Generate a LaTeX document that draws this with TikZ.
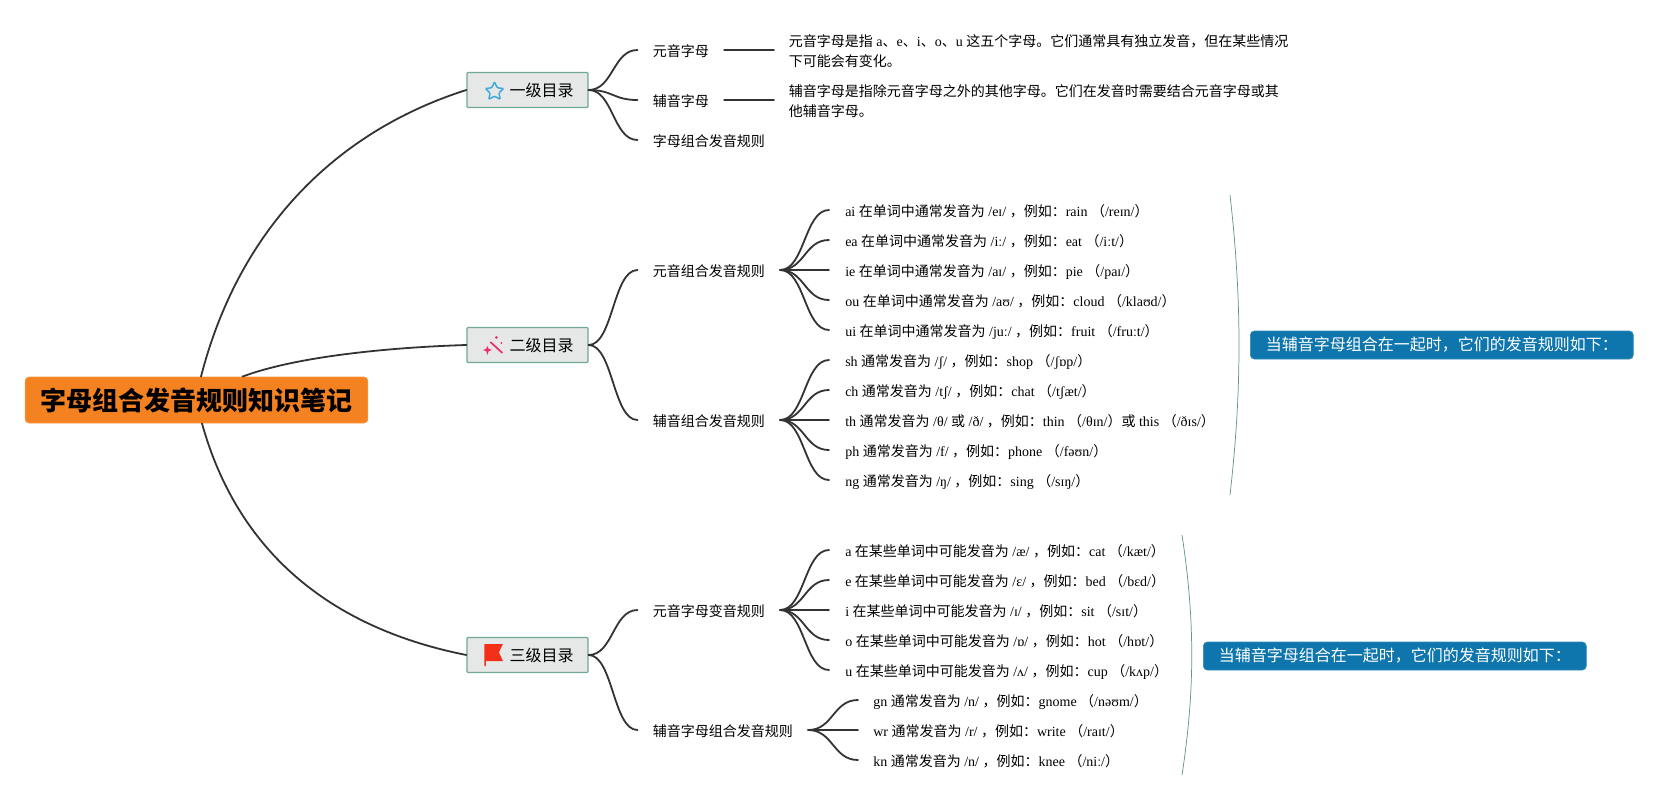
\documentclass[tikz,border=0pt]{standalone}
\usepackage{fontspec}
\setmainfont{Liberation Serif}
\newfontfamily\cjk{Noto Sans CJK SC}
\usetikzlibrary{calc,shapes.geometric}
\newcommand{\z}[1]{{\cjk #1}}
\definecolor{rootfill}{HTML}{F58220}
\definecolor{boxfill}{HTML}{E6E8E8}
\definecolor{boxline}{HTML}{6FA898}
\definecolor{callfill}{HTML}{0E76AC}
\definecolor{linec}{HTML}{333333}
\tikzset{
  link/.style={draw=linec,line width=1.35pt,line cap=round},
  rootbox/.style={draw=rootfill!85!white,line width=.6pt,fill=rootfill,rounded corners=3pt,minimum width=257pt,minimum height=34.5pt,inner sep=0pt,font=\cjk\bfseries\fontsize{19.5}{24}\selectfont},
  lvbox/.style={draw=boxline,line width=.9pt,fill=boxfill,rounded corners=.8pt,minimum width=90.75pt,minimum height=26.25pt,inner sep=0pt,text height=11.6pt,text depth=1.2pt,font=\cjk\fontsize{12}{15}\selectfont},
  item/.style={anchor=west,inner xsep=11.3pt,inner ysep=0pt,text height=10.1pt,text depth=.9pt,font=\fontsize{10.5}{15}\selectfont,text=black},
  kid/.style={item,inner xsep=12pt},
  desc/.style={anchor=west,inner xsep=11pt,inner ysep=0pt,align=left,font=\fontsize{10.5}{15}\selectfont,text=black},
  callout/.style={fill=callfill,draw=callfill!85!white,line width=.5pt,rounded corners=3pt,inner xsep=11.6pt,inner ysep=0pt,minimum height=21pt,text=white,font=\cjk\fontsize{12}{15}\selectfont},
  brace/.style={draw=boxline!90!black,line width=.55pt},
}
\newcommand{\fan}[2]{\draw[link] (#1) .. controls ($(#1)!.5!(#1 -| #2.west)$) and ($(#2.west)!.5!(#2.west -| #1)$) .. (#2.west);}
\begin{document}
\begin{tikzpicture}[x=0.75pt,y=-0.75pt]
\useasboundingbox (0,0) rectangle (1678,800);
\fill[white] (0,0) rectangle (1678,800);

% root and level boxes
\node[rootbox] (root) at (196.5,400) {字母组合发音规则知识笔记};
\node[lvbox] (b1) at (527.5,90) {\hspace*{21pt}一级目录};
\node[lvbox] (b2) at (527.5,345) {\hspace*{21pt}二级目录};
\node[lvbox] (b3) at (527.5,655) {\hspace*{21pt}三级目录};

% icons
\node[star,star points=5,star point ratio=2.1,draw={rgb,255:red,63;green,169;blue,220},line width=1.1pt,rounded corners=.8pt,inner sep=0pt,minimum size=14.5pt] (icon1) at (494.5,91.5) {};
\definecolor{wandc}{HTML}{E8306A}
\coordinate (w0) at (b2.west);
\draw[wandc,line width=1.3pt] ($(w0)+(24,-3)$) -- ($(w0)+(36,8)$);
\fill[wandc] ($(w0)+(21,1)$) -- ($(w0)+(22.2,3.8)$) -- ($(w0)+(25.5,5)$) -- ($(w0)+(22.2,6.2)$) -- ($(w0)+(21,10)$) -- ($(w0)+(19.8,6.2)$) -- ($(w0)+(16.5,5)$) -- ($(w0)+(19.8,3.8)$) -- cycle;
\fill[wandc] ($(w0)+(30,-7.5)$) circle (1.5);
\fill[wandc] ($(w0)+(35,-2)$) circle (1);
\definecolor{flagc}{HTML}{F5301A}
\coordinate (f0) at (b3.west);
\fill[flagc] ($(f0)+(18,-11)$) -- ($(f0)+(36.5,-11)$) -- ($(f0)+(32.5,-2.7)$) -- ($(f0)+(36.5,6)$) -- ($(f0)+(19.5,6)$) -- ($(f0)+(19.5,11)$) -- ($(f0)+(18,11)$) -- cycle;

% section 1
\node[item] (a1) at (637.5,50) {\z{元音字母}};
\node[item] (a2) at (637.5,100) {\z{辅音字母}};
\node[item] (a3) at (637.5,140) {\z{字母组合发音规则}};
\node[desc] (d1) at (774,51.5) {\z{元音字母是指} a\z{、}e\z{、}i\z{、}o\z{、}u \z{这五个字母。它们通常具有独立发音，但在某些情况}\\\z{下可能会有变化。}};
\node[desc] (d2) at (774,101) {\z{辅音字母是指除元音字母之外的其他字母。它们在发音时需要结合元音字母或其}\\\z{他辅音字母。}};

% section 2
\node[item] (p1) at (637.5,270) {\z{元音组合发音规则}};
\node[item] (p2) at (637.5,420) {\z{辅音组合发音规则}};
\node[kid] (c1) at (829,210) {ai \z{在单词中通常发音为} /eɪ/ \z{，例如：}rain \z{（}/reɪn/\z{）}};
\node[kid] (c2) at (829,240) {ea \z{在单词中通常发音为} /iː/ \z{，例如：}eat \z{（}/iːt/\z{）}};
\node[kid] (c3) at (829,270) {ie \z{在单词中通常发音为} /aɪ/ \z{，例如：}pie \z{（}/paɪ/\z{）}};
\node[kid] (c4) at (829,300) {ou \z{在单词中通常发音为} /aʊ/ \z{，例如：}cloud \z{（}/klaʊd/\z{）}};
\node[kid] (c5) at (829,330) {ui \z{在单词中通常发音为} /juː/ \z{，例如：}fruit \z{（}/fruːt/\z{）}};
\node[kid] (c6) at (829,360) {sh \z{通常发音为} /ʃ/ \z{，例如：}shop \z{（}/ʃɒp/\z{）}};
\node[kid] (c7) at (829,390) {ch \z{通常发音为} /tʃ/ \z{，例如：}chat \z{（}/tʃæt/\z{）}};
\node[kid] (c8) at (829,420) {th \z{通常发音为} /θ/ \z{或} /ð/ \z{，例如：}thin \z{（}/θɪn/\z{）或} this \z{（}/ðɪs/\z{）}};
\node[kid] (c9) at (829,450) {ph \z{通常发音为} /f/ \z{，例如：}phone \z{（}/fəʊn/\z{）}};
\node[kid] (c10) at (829,480) {ng \z{通常发音为} /ŋ/ \z{，例如：}sing \z{（}/sɪŋ/\z{）}};

% section 3
\node[item] (q1) at (637.5,610) {\z{元音字母变音规则}};
\node[item] (q2) at (637.5,730) {\z{辅音字母组合发音规则}};
\node[kid] (e1) at (829,550) {a \z{在某些单词中可能发音为} /æ/ \z{，例如：}cat \z{（}/kæt/\z{）}};
\node[kid] (e2) at (829,580) {e \z{在某些单词中可能发音为} /ɛ/ \z{，例如：}bed \z{（}/bɛd/\z{）}};
\node[kid] (e3) at (829,610) {i \z{在某些单词中可能发音为} /ɪ/ \z{，例如：}sit \z{（}/sɪt/\z{）}};
\node[kid] (e4) at (829,640) {o \z{在某些单词中可能发音为} /ɒ/ \z{，例如：}hot \z{（}/hɒt/\z{）}};
\node[kid] (e5) at (829,670) {u \z{在某些单词中可能发音为} /ʌ/ \z{，例如：}cup \z{（}/kʌp/\z{）}};
\node[item] (g1) at (858,700) {gn \z{通常发音为} /n/ \z{，例如：}gnome \z{（}/nəʊm/\z{）}};
\node[item] (g2) at (858,730) {wr \z{通常发音为} /r/ \z{，例如：}write \z{（}/raɪt/\z{）}};
\node[item] (g3) at (858,760) {kn \z{通常发音为} /n/ \z{，例如：}knee \z{（}/niː/\z{）}};

% root connectors
\draw[link] ($(root.north)+(4.5,0)$) .. controls (240,225) and (340,130) .. (b1.west);
\draw[link] ($(root.north)+(46,0)$) .. controls (300,355) and (400,347) .. (b2.west);
\draw[link] ($(root.south)+(5.5,0)$) .. controls (240,560) and (340,630) .. (b3.west);

% level connectors
\foreach \n in {a1,a2,a3} {\fan{b1.east}{\n}}
\foreach \n in {p1,p2} {\fan{b2.east}{\n}}
\foreach \n in {q1,q2} {\fan{b3.east}{\n}}
\foreach \n in {c1,c2,c3,c4,c5} {\fan{p1.east}{\n}}
\foreach \n in {c6,c7,c8,c9,c10} {\fan{p2.east}{\n}}
\foreach \n in {e1,e2,e3,e4,e5} {\fan{q1.east}{\n}}
\foreach \n in {g1,g2,g3} {\fan{q2.east}{\n}}
\draw[link] (a1.east) -- (a1.east -| d1.west);
\draw[link] (a2.east) -- (a2.east -| d2.west);

% summaries
\node[callout,anchor=west] (s1) at (1250,345) {当辅音字母组合在一起时，它们的发音规则如下：};
\node[callout,anchor=west] (s2) at (1203,656) {当辅音字母组合在一起时，它们的发音规则如下：};
\coordinate (s1a) at (1230,195);
\coordinate (s1b) at (1230,495);
\coordinate (s2a) at (1182,535);
\coordinate (s2b) at (1182,775);
\draw[brace] (s1a) .. controls (1242,300) and (1242,390) .. (s1b);
\draw[brace] (s2a) .. controls (1195,620) and (1195,690) .. (s2b);
\end{tikzpicture}
\end{document}
